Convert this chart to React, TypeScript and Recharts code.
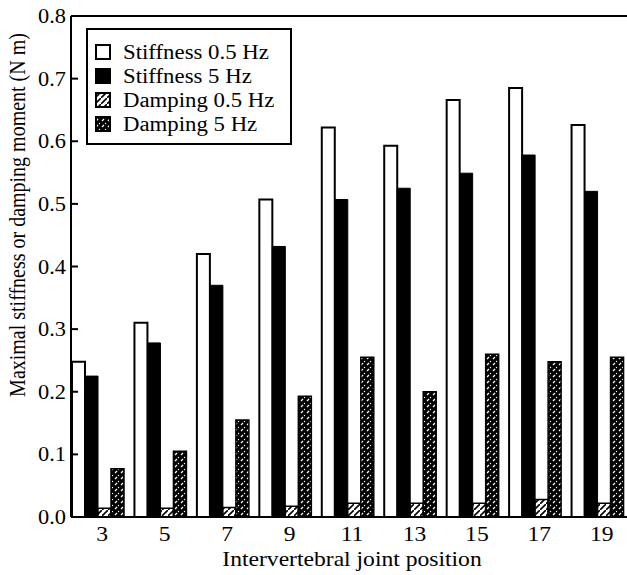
import * as React from 'react';
import {
  BarChart,
  Bar,
  XAxis,
  YAxis,
  Legend,
  ReferenceLine,
} from 'recharts';

const positions = ['3', '5', '7', '9', '11', '13', '15', '17', '19'];
const stiffness05 = [0.248, 0.31, 0.42, 0.507, 0.622, 0.593, 0.666, 0.685, 0.626];
const stiffness5 = [0.225, 0.278, 0.37, 0.432, 0.507, 0.525, 0.549, 0.578, 0.52];
const damping05 = [0.014, 0.014, 0.015, 0.017, 0.022, 0.022, 0.022, 0.028, 0.022];
const damping5 = [0.077, 0.105, 0.155, 0.193, 0.255, 0.2, 0.26, 0.248, 0.255];
const yTicks = [0, 0.1, 0.2, 0.3, 0.4, 0.5, 0.6, 0.7, 0.8];

const FONT = '"Liberation Serif", "DejaVu Serif", serif';
// the scanned figure is a bit wider than tall, so text is stretched sideways
const STRETCH = 1.18;

const data = positions.map((p, i) => ({
  pos: p,
  s05: stiffness05[i],
  s5: stiffness5[i],
  d05: damping05[i],
  d5: damping5[i],
}));

const legendItems = [
  { label: 'Stiffness 0.5 Hz', fill: '#fff' },
  { label: 'Stiffness 5 Hz', fill: '#000' },
  { label: 'Damping 0.5 Hz', fill: 'url(#hatchLight)' },
  { label: 'Damping 5 Hz', fill: 'url(#hatchDark)' },
];

function LegendBox() {
  return (
    <div
      style={{
        border: '2px solid #000',
        width: 202,
        height: 103,
        boxSizing: 'content-box',
        paddingTop: 10,
        fontFamily: FONT,
        fontSize: 20,
        color: '#000',
        background: '#fff',
        textAlign: 'left',
      }}
    >
      {legendItems.map((it) => (
        <div
          key={it.label}
          style={{ display: 'flex', alignItems: 'center', height: 24, paddingLeft: 7 }}
        >
          <svg width={16} height={16} style={{ marginRight: 12, flex: 'none' }}>
            <rect x={1} y={1} width={14} height={14} fill={it.fill} stroke="#000" strokeWidth={2} />
          </svg>
          <span
            style={{
              display: 'inline-block',
              whiteSpace: 'nowrap',
              transform: 'scaleX(1.14)',
              transformOrigin: 'left center',
            }}
          >
            {it.label}
          </span>
        </div>
      ))}
    </div>
  );
}

function XTick(props: any) {
  const { x, y, payload } = props;
  return (
    <text
      transform={`translate(${x} ${y}) scale(${STRETCH} 1)`}
      dy="0.71em"
      textAnchor="middle"
      fontFamily={FONT}
      fontSize={20}
      fill="#000"
    >
      {payload.value}
    </text>
  );
}

function YTick(props: any) {
  const { x, y, payload } = props;
  return (
    <text
      transform={`translate(${x} ${y}) scale(1.12 1)`}
      dy="0.355em"
      textAnchor="end"
      fontFamily={FONT}
      fontSize={20}
      fill="#000"
    >
      {Number(payload.value).toFixed(1)}
    </text>
  );
}

function XTitle(props: any) {
  const vb = props.viewBox || {};
  const cx = vb.x + vb.width / 2;
  return (
    <text
      transform={`translate(${cx} 566) scale(${STRETCH} 1)`}
      textAnchor="middle"
      fontFamily={FONT}
      fontSize={20}
      fill="#000"
    >
      Intervertebral joint position
    </text>
  );
}

function YTitle() {
  return (
    <text
      transform={`translate(17 215) scale(${STRETCH} 1) rotate(-90)`}
      textAnchor="middle"
      dominantBaseline="central"
      fontFamily={FONT}
      fontSize={20}
      fill="#000"
    >
      Maximal stiffness or damping moment (N m)
    </text>
  );
}

export default function App() {
  return (
    <div
      style={{
        position: 'absolute',
        left: 0,
        top: 0,
        width: 627,
        height: 575,
        overflow: 'hidden',
        background: '#fff',
      }}
    >
      <BarChart
        width={640}
        height={575}
        data={data}
        margin={{ top: 16, right: 0, left: 0, bottom: 0 }}
        barGap={0}
        barCategoryGap={5}
      >
        <defs>
          <pattern id="hatchLight" patternUnits="userSpaceOnUse" width={6} height={6}>
            <rect width={6} height={6} fill="#fff" />
            <path d="M-1,7 L7,-1" stroke="#000" strokeWidth={1.6} />
          </pattern>
          <pattern id="hatchDark" patternUnits="userSpaceOnUse" width={6} height={6}>
            <rect width={6} height={6} fill="#000" />
            <path d="M1,5 L3,3" stroke="#fff" strokeWidth={1.2} />
            <circle cx={4.5} cy={1.5} r={0.7} fill="#fff" />
          </pattern>
        </defs>
        <XAxis
          dataKey="pos"
          height={58}
          padding={{ left: -4, right: 4 }}
          axisLine={{ stroke: '#000', strokeWidth: 2 }}
          tickLine={false}
          tickSize={0}
          tickMargin={10}
          tick={(p: any) => <XTick {...p} x={p.x + 4} />}
          label={<XTitle />}
        />
        <YAxis
          width={71}
          domain={[0, 0.8]}
          ticks={yTicks}
          interval={0}
          allowDataOverflow
          axisLine={{ stroke: '#000', strokeWidth: 2 }}
          tickLine={{ stroke: '#000', strokeWidth: 2 }}
          tickSize={-7}
          tickMargin={12}
          tick={<YTick />}
          label={<YTitle />}
        />
        <YAxis
          yAxisId="right"
          orientation="right"
          width={7}
          domain={[0, 0.8]}
          ticks={yTicks}
          axisLine={false}
          tickLine={{ stroke: '#000', strokeWidth: 2 }}
          tickSize={-6}
          tick={false}
        />
        <ReferenceLine y={0.8} stroke="#000" strokeWidth={2} ifOverflow="visible" />
        <Legend
          layout="horizontal"
          verticalAlign="middle"
          align="center"
          content={<LegendBox />}
          wrapperStyle={{ position: 'absolute', left: 86, top: 28, width: 'auto', bottom: 'auto', right: 'auto' }}
        />
        <Bar dataKey="s05" name="Stiffness 0.5 Hz" fill="#fff" stroke="#000" strokeWidth={2} isAnimationActive={false} />
        <Bar dataKey="s5" name="Stiffness 5 Hz" fill="#000" stroke="#000" strokeWidth={1} isAnimationActive={false} />
        <Bar dataKey="d05" name="Damping 0.5 Hz" fill="url(#hatchLight)" stroke="#000" strokeWidth={1.5} isAnimationActive={false} />
        <Bar dataKey="d5" name="Damping 5 Hz" fill="url(#hatchDark)" stroke="#000" strokeWidth={1.5} isAnimationActive={false} />
      </BarChart>
    </div>
  );
}
